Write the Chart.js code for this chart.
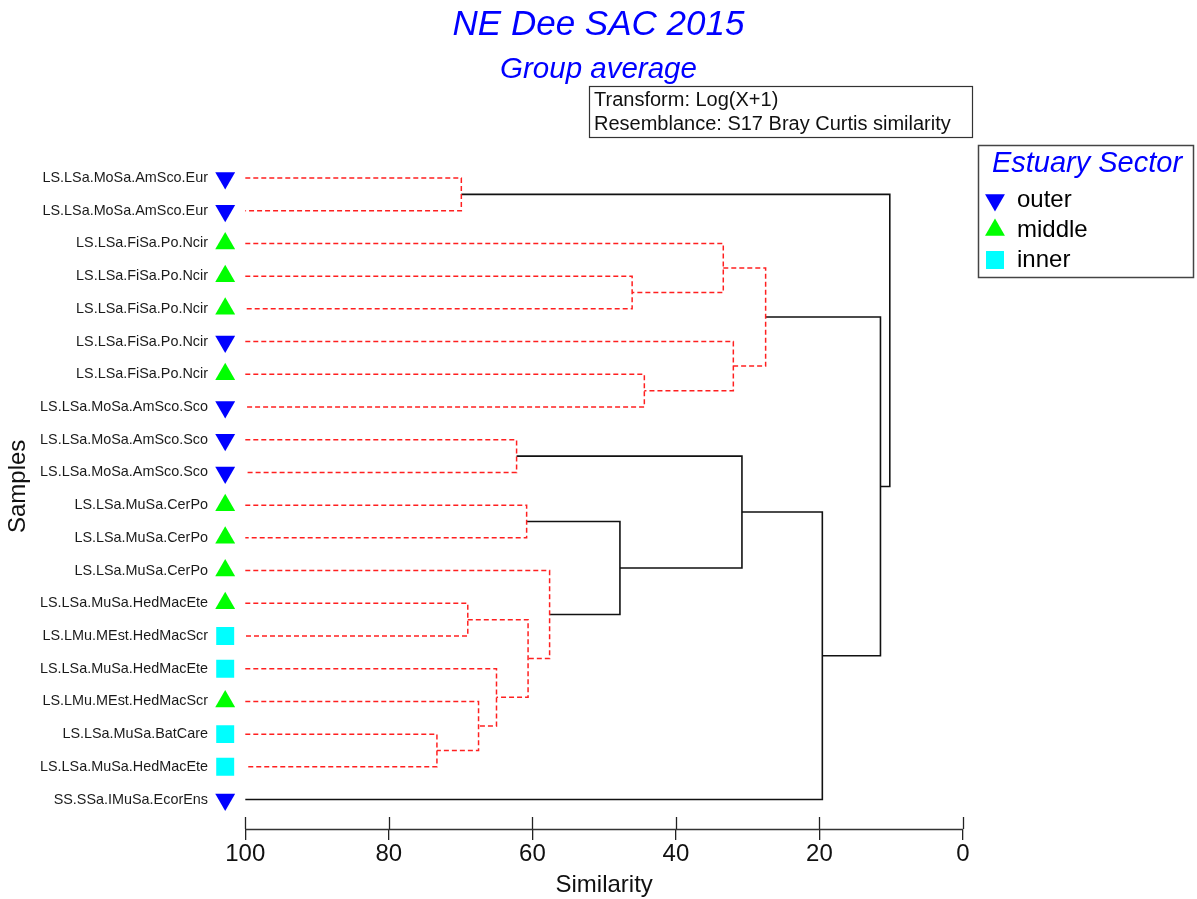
<!DOCTYPE html>
<html>
<head>
<meta charset="utf-8">
<title>NE Dee SAC 2015 - Group average</title>
<script src="https://cdn.jsdelivr.net/npm/chart.js@4/dist/chart.umd.min.js"></script>
<style>
  html, body { margin: 0; padding: 0; background: #fff; }
  #wrap { width: 1197px; height: 899px; }
</style>
</head>
<body>
<div id="wrap"><canvas id="dendro" width="1197" height="899"></canvas></div>
<script>
// Samples, top to bottom
const sampleLabels = [
  'LS.LSa.MoSa.AmSco.Eur', 'LS.LSa.MoSa.AmSco.Eur',
  'LS.LSa.FiSa.Po.Ncir', 'LS.LSa.FiSa.Po.Ncir', 'LS.LSa.FiSa.Po.Ncir',
  'LS.LSa.FiSa.Po.Ncir', 'LS.LSa.FiSa.Po.Ncir',
  'LS.LSa.MoSa.AmSco.Sco', 'LS.LSa.MoSa.AmSco.Sco', 'LS.LSa.MoSa.AmSco.Sco',
  'LS.LSa.MuSa.CerPo', 'LS.LSa.MuSa.CerPo', 'LS.LSa.MuSa.CerPo',
  'LS.LSa.MuSa.HedMacEte', 'LS.LMu.MEst.HedMacScr', 'LS.LSa.MuSa.HedMacEte',
  'LS.LMu.MEst.HedMacScr', 'LS.LSa.MuSa.BatCare', 'LS.LSa.MuSa.HedMacEte',
  'SS.SSa.IMuSa.EcorEns'
];
const sampleSector = [
  'outer', 'outer', 'middle', 'middle', 'middle', 'outer', 'middle',
  'outer', 'outer', 'outer', 'middle', 'middle', 'middle', 'middle',
  'inner', 'inner', 'middle', 'inner', 'inner', 'outer'
];

// Linkage: ids < 20 are samples, id 20+k is merge k
const mergeA   = [0, 3, 2, 6, 5, 22, 8, 10, 13, 17, 16, 15, 28, 12, 27, 26, 35, 25, 20];
const mergeB   = [1, 4, 21, 7, 23, 24, 9, 11, 14, 18, 29, 30, 31, 32, 33, 34, 19, 36, 37];
const mergeSim = [69.9, 46.1, 33.4, 44.4, 32.0, 27.5, 62.2, 60.8, 69.0, 73.3, 67.5, 65.0, 60.6, 57.6, 47.8, 30.8, 19.6, 11.5, 10.2];
// false = no significant structure (drawn red dashed)
const mergeSig = [false, false, false, false, false, false, false, false, false, false, false, false, false, false, true, true, true, true, true];

const xTicks = [100, 80, 60, 40, 20, 0];
const sectorNames = ['outer', 'middle', 'inner'];

const FONT = "'Liberation Sans', Arial, sans-serif";
const sectorStyle = {
  outer:  { color: '#0000ff', pointStyle: 'triangle', rotation: 180, radius: 11.5 },
  middle: { color: '#00ff00', pointStyle: 'triangle', rotation: 0, radius: 11.5 },
  inner:  { color: '#00ffff', pointStyle: 'rect', rotation: 0, radius: 12.7 }
};
const markerX = 102.8; // marker column just left of the 100 line
const xMax = 104.5;    // room for the markers inside the plot area

// position and height of every node
const nodeY = sampleLabels.map((_, i) => i);
const nodeH = sampleLabels.map(() => 100);
mergeA.forEach((a, k) => {
  nodeY.push((nodeY[a] + nodeY[mergeB[k]]) / 2);
  nodeH.push(mergeSim[k]);
});

const linkSets = mergeA.map((a, k) => {
  const b = mergeB[k];
  const h = mergeSim[k];
  const sig = mergeSig[k];
  return {
    data: [
      { x: nodeH[a], y: nodeY[a] }, { x: h, y: nodeY[a] },
      { x: h, y: nodeY[b] }, { x: nodeH[b], y: nodeY[b] }
    ],
    showLine: true,
    pointRadius: 0,
    borderColor: sig ? '#111111' : '#ff2020',
    borderWidth: sig ? 1.6 : 1.5,
    borderDash: sig ? [] : [5, 3],
    fill: false,
    tension: 0
  };
});

const markerSets = sectorNames.map(s => ({
  label: s,
  data: sampleSector.map((sec, i) => sec === s ? { x: markerX, y: i } : null).filter(p => p),
  showLine: false,
  pointStyle: sectorStyle[s].pointStyle,
  rotation: sectorStyle[s].rotation,
  pointRadius: sectorStyle[s].radius,
  backgroundColor: sectorStyle[s].color,
  borderColor: sectorStyle[s].color,
  borderWidth: 0
}));

const extrasPlugin = {
  id: 'extras',
  afterDraw(chart) {
    const ctx = chart.ctx;
    const xs = chart.scales.x;
    const bottom = chart.chartArea.bottom;
    const x100 = xs.getPixelForValue(100);
    const x0 = xs.getPixelForValue(0);
    ctx.save();

    // axis line from 100 to 0, tick marks also reach above it
    ctx.strokeStyle = '#333';
    ctx.lineWidth = 1.5;
    ctx.beginPath();
    ctx.moveTo(x100, bottom + 0.5);
    ctx.lineTo(x0, bottom + 0.5);
    ctx.stroke();
    ctx.strokeStyle = '#222';
    ctx.lineWidth = 1.3;
    xTicks.forEach(v => {
      const px = Math.round(xs.getPixelForValue(v)) + 0.5;
      ctx.beginPath();
      ctx.moveTo(px, bottom - 12);
      ctx.lineTo(px, bottom);
      ctx.stroke();
    });

    // axis title centred under the 100..0 span
    ctx.fillStyle = '#111';
    ctx.font = '24px ' + FONT;
    ctx.textAlign = 'center';
    ctx.textBaseline = 'middle';
    ctx.fillText('Similarity', (x100 + x0) / 2, 885);

    // transform / resemblance box
    ctx.strokeStyle = '#333';
    ctx.lineWidth = 1.2;
    ctx.strokeRect(589.5, 86.5, 383, 51);
    ctx.font = '20px ' + FONT;
    ctx.textAlign = 'left';
    ctx.fillText('Transform: Log(X+1)', 594, 100);
    ctx.fillText('Resemblance: S17 Bray Curtis similarity', 594, 124);

    // legend box
    ctx.strokeStyle = '#444';
    ctx.lineWidth = 1.5;
    ctx.strokeRect(978.5, 145.5, 215, 132);
    ctx.fillStyle = '#0000ff';
    ctx.font = 'italic 29px ' + FONT;
    ctx.textAlign = 'center';
    ctx.fillText('Estuary Sector', 1087, 164);
    ctx.font = '24px ' + FONT;
    ctx.textAlign = 'left';
    sectorNames.forEach((s, i) => {
      const y = 200 + i * 30;
      const st = sectorStyle[s];
      ctx.fillStyle = st.color;
      ctx.strokeStyle = st.color;
      Chart.helpers.drawPoint(ctx, {
        pointStyle: st.pointStyle, rotation: st.rotation,
        radius: st.radius, borderWidth: 0
      }, 995, y);
      ctx.fillStyle = '#000';
      ctx.fillText(s, 1017, y);
    });
    ctx.restore();
  }
};

new Chart(document.getElementById('dendro'), {
  type: 'scatter',
  data: { datasets: linkSets.concat(markerSets) },
  options: {
    responsive: false,
    devicePixelRatio: 1,
    animation: false,
    events: [],
    layout: { padding: 0 },
    plugins: {
      legend: { display: false },
      tooltip: { enabled: false },
      title: {
        display: true,
        text: 'NE Dee SAC 2015',
        color: '#0000ff',
        font: { family: FONT, size: 35, style: 'italic', weight: 'normal', lineHeight: 1.15 },
        padding: { top: 5, bottom: 0 }
      },
      subtitle: {
        display: true,
        text: 'Group average',
        color: '#0000ff',
        font: { family: FONT, size: 29.5, style: 'italic', weight: 'normal', lineHeight: 1.15 },
        padding: { top: 8, bottom: 56.5 }
      }
    },
    scales: {
      x: {
        type: 'linear',
        min: 0,
        max: xMax,
        reverse: true,
        afterFit: s => { s.height = 70; },
        afterBuildTicks: s => { s.ticks = xTicks.map(v => ({ value: v })); },
        ticks: {
          padding: 0,
          color: '#111',
          font: { family: FONT, size: 24 }
        },
        grid: {
          display: true,
          drawOnChartArea: false,
          drawTicks: true,
          tickLength: 11,
          color: '#222',
          lineWidth: 1.3
        },
        border: { display: false }
      },
      y: {
        type: 'linear',
        min: -1.05,
        max: 19.9,
        reverse: true,
        afterFit: s => { s.width = 213; },
        afterBuildTicks: s => { s.ticks = sampleLabels.map((_, i) => ({ value: i })); },
        ticks: {
          padding: 5,
          color: '#1a1a1a',
          font: { family: FONT, size: 14.4 },
          callback: v => sampleLabels[v]
        },
        grid: { display: false, drawTicks: false },
        border: { display: false },
        title: {
          display: true,
          text: 'Samples',
          color: '#111',
          font: { family: FONT, size: 24 },
          padding: { top: 4, bottom: 0 }
        }
      },
      // empty right-hand axis keeps room for the legend box
      side: {
        type: 'linear',
        position: 'right',
        display: true,
        afterFit: s => { s.width = 234; },
        ticks: { display: false },
        grid: { display: false, drawTicks: false },
        border: { display: false }
      }
    }
  },
  plugins: [extrasPlugin]
});
</script>
</body>
</html>
